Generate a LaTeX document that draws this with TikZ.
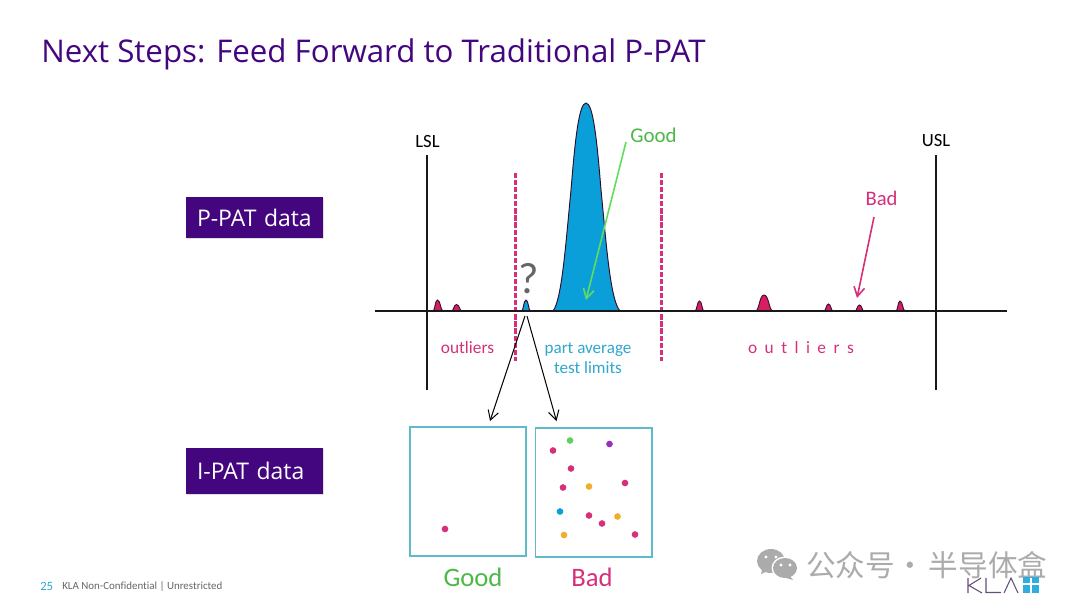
\documentclass[tikz,border=0pt]{standalone}
\usepackage{fontspec}
\setmainfont[Ligatures=NoCommon]{Carlito}
\newfontfamily\cjk{Noto Sans CJK SC}
\newfontfamily\headf{Open Sans}
\usetikzlibrary{arrows.meta,shadows}
\definecolor{klapurple}{HTML}{44067F}
\definecolor{klared}{HTML}{D6307A}
\definecolor{peakred}{HTML}{D81E63}
\definecolor{klablue}{HTML}{0A9FD8}
\definecolor{tealtxt}{HTML}{2FA8CC}
\definecolor{framec}{HTML}{5FBBCB}
\definecolor{goodtxt}{HTML}{4DB848}
\definecolor{goodarrow}{HTML}{62DC5E}
\definecolor{dotorange}{HTML}{F0AE2E}
\definecolor{dotgreen}{HTML}{62D060}
\definecolor{dotviolet}{HTML}{9B30C0}
\definecolor{wmgray}{HTML}{ABABAB}
\definecolor{peakedge}{HTML}{3A1030}
\tikzset{
  x=0.75pt,y=-0.75pt,
  limitline/.style={line width=2.1pt,black!90},
  patline/.style={line width=2.3pt,klared,dash pattern=on 3.9pt off 1.4pt},
  peakred/.style={fill=peakred,draw=peakedge,line width=0.7pt},
  peakblue/.style={fill=klablue,draw=peakedge!80!black,line width=0.7pt},
  tagbox/.style={fill=klapurple,text=white,font=\headf\fontsize{17.2}{20}\selectfont,minimum width=102.75pt,inner xsep=8.25pt,inner ysep=0pt,text width=86.25pt,align=left,anchor=center,drop shadow={shadow xshift=1pt,shadow yshift=-1pt,fill=black!35,opacity=.35}},
  wafer/.style={draw=framec,line width=1.3pt,fill=white,anchor=north west,inner sep=0pt,outer sep=0pt},
  lab/.style={inner sep=0pt,anchor=center,font=\fontsize{13}{15}\selectfont},
  callout/.style={line width=1.2pt,-{Straight Barb[length=7pt,width=8pt,line width=1.2pt]}},
  pick/.style={line width=0.75pt,black,-{Straight Barb[length=7pt,width=8pt,line width=0.75pt]}},
  spot/.style={circle,minimum size=5pt,inner sep=0pt},
}
\newcommand{\peak}[5]{% style, left, centre, right, top
  \path[#1] (#2,311) .. controls ({#2+0.45*(#3-#2)},311) and ({#2+0.45*(#3-#2)},#5) .. (#3,#5)
     .. controls ({#4-0.45*(#4-#3)},#5) and ({#4-0.45*(#4-#3)},311) .. (#4,311) -- cycle;}
\begin{document}
\begin{tikzpicture}
\useasboundingbox (0,0) rectangle (1080,608);
\fill[white] (0,0) rectangle (1080,608);

\node[anchor=west,inner sep=0pt,text=klapurple,font=\headf\fontsize{23.45}{28}\selectfont] (title) at (41,54) {Next Steps: Feed Forward to Traditional P-PAT};

\node[tagbox,minimum height=30.75pt] (ppat) at (254.5,217.5) {P-PAT data};
\node[tagbox,minimum height=34.5pt] (ipat) at (254.5,471) {\raisebox{-1.8pt}{I-PAT data}};

% peaks
\path[fill=klablue,draw=peakedge!80!black,line width=0.7pt] (553,311)
  .. controls (562,300) and (566,240) .. (571,190)
  .. controls (575,140) and (579,103) .. (586,103)
  .. controls (593,103) and (597,140) .. (601,190)
  .. controls (606,240) and (610,300) .. (620,311) -- cycle;
\peak{peakred}{433}{437.5}{443}{300}
\peak{peakred}{451.5}{456.5}{462}{304.5}
\peak{peakblue}{521.5}{526}{530.5}{300}
\peak{peakred}{695}{699.5}{704}{301}
\peak{peakred}{755.5}{764}{773}{295}
\peak{peakred}{824}{828.5}{833}{304}
\peak{peakred}{855}{859.5}{864}{305}
\peak{peakred}{896}{900}{905}{301}

% axis and limits
\coordinate (axL) at (375,311); \coordinate (axR) at (1007,311);
\coordinate (lslT) at (427,155); \coordinate (lslB) at (427,390);
\coordinate (uslT) at (936,155); \coordinate (uslB) at (936,390);
\coordinate (patLT) at (515.5,173); \coordinate (patLB) at (515.5,361);
\coordinate (patRT) at (661.8,173); \coordinate (patRB) at (661.8,361);
\draw[patline] (patLT) -- (patLB);
\draw[patline] (patRT) -- (patRB);
\draw[limitline] (axL) -- (axR);
\draw[limitline] (lslT) -- (lslB);
\draw[limitline] (uslT) -- (uslB);

% labels
\node[lab,font=\fontsize{14}{16}\selectfont] (lsl) at (427.5,141) {LSL};
\node[lab,font=\fontsize{14}{16}\selectfont] (usl) at (936,141) {USL};
\node[lab,text=goodtxt,font=\fontsize{15.7}{18}\selectfont] (goodl) at (653.5,135) {Good};
\node[lab,text=klared,font=\fontsize{15.5}{18}\selectfont] (badl) at (881.5,198) {Bad};
\node[lab,text=black!60,font=\fontsize{33}{36}\selectfont] (qm) at (529,279) {?};
\node[lab,text=klared] (outL) at (467.5,347.5) {outliers};
\node[lab,text=tealtxt,align=center,font=\fontsize{12.8}{15}\selectfont] (pal) at (588,358) {part average\\test limits};
\node[lab,text=klared] (outR) at (801,347.5) {o\hspace{5.6pt}u\hspace{5.6pt}t\hspace{5.6pt}l\hspace{5.6pt}i\hspace{5.6pt}e\hspace{5.6pt}r\hspace{5.6pt}s};

% wafers
\node[wafer,minimum width=87pt,minimum height=96.75pt] (wgood) at (410,427) {};
\node[wafer,minimum width=87.2pt,minimum height=96.6pt] (wbad) at (535.4,428.2) {};
\node[lab,text=goodtxt,font=\fontsize{20}{23}\selectfont] (goodc) at (473,577) {Good};
\node[lab,text=klared,font=\fontsize{20}{23}\selectfont] (badc) at (592,577) {Bad};

% connectors
\coordinate (goodS) at (626,142); \coordinate (goodE) at (586,300);
\coordinate (badS) at (874,217); \coordinate (badE) at (857,298);
\coordinate (qa) at (525,316); \coordinate (qb) at (527,316);
\draw[callout,goodarrow] (goodS) -- (goodE);
\draw[callout,klared] (badS) -- (badE);
\draw[pick] (qa) -- (490,421);
\draw[pick] (qb) -- (556.5,421);

% dots
\foreach \px/\py/\c in {445/529/klared,
  570/440.5/dotgreen,609.5/444/dotviolet,553/450.5/klared,571/468.5/klared,
  625/483/klared,563/487.5/klared,589/486.5/dotorange,560/511.5/klablue,
  589/515.5/klared,602/523.5/klared,617.5/516.5/dotorange,564/535/dotorange,635/534.5/klared}
  {\node[spot,fill=\c] at (\px,\py) {};}

% footer
\node[anchor=west,inner sep=0pt,text=tealtxt,font=\fontsize{9.5}{10}\selectfont] (pg) at (40,586) {25};
\node[anchor=west,inner sep=0pt,text=black!60,font=\fontsize{8.2}{9}\selectfont] (conf) at (62,586) {KLA Non-Confidential | Unrestricted};

% watermark
\fill[wmgray] (771,561) ellipse (14 and 12);
\fill[wmgray] (762,570) -- (761,574) -- (768,571) -- cycle;
\fill[white] (785,568) ellipse (13.5 and 11.5);
\fill[wmgray] (785,568) ellipse (12 and 10);
\fill[wmgray] (790,576) -- (793,580) -- (783,577) -- cycle;
\foreach \ex/\ey/\ec in {766/557/white,776/557/white,781/565/white,790/565/white}
  {\fill[\ec] (\ex,\ey) circle (1.7);}
\node[anchor=west,inner sep=0pt,text=wmgray,font=\cjk\fontsize{22.2}{24}\selectfont] (wm) at (806,565) {公众号\hspace{-4.6pt} · \hspace{-2.2pt}半导体盒};

% logo
\draw[line width=0.8pt,color=klapurple!55!black!70] (968,578) -- (968,593) (981,578) -- (969,585.5) -- (982,593)
  (986,578) -- (986,592.5) -- (1001,592.5) (1004,593) -- (1011,578) -- (1018,593);
\fill[klablue!85] (1023,577) rectangle (1039,593);
\draw[white,line width=0.8pt] (1031,578) -- (1031,593) (1023,584) -- (1039,584);
\end{tikzpicture}
\end{document}
